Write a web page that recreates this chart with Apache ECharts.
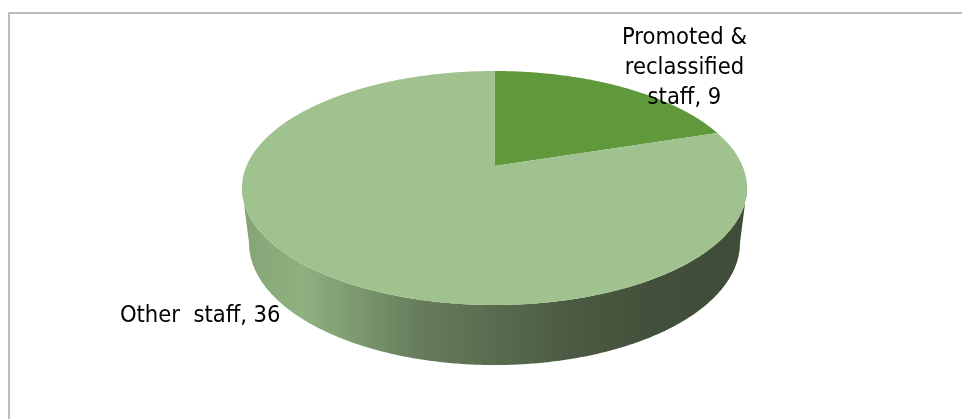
<!DOCTYPE html>
<html>
<head>
<meta charset="utf-8">
<script src="https://cdn.jsdelivr.net/npm/echarts@6/dist/echarts.min.js"></script>
<style>
html,body{margin:0;padding:0;background:#fff;}
#chart{width:962px;height:419px;}
</style>
</head>
<body>
<div id="chart"></div>
<script>
// ---- data ----
const categories = ['Promoted &\nreclassified\nstaff', 'Other  staff'];
const values = [9, 36];
const topColors = ['#5f993c', '#9fc28e'];

// ---- perspective projection of the pie disc (layout) ----
const CX = 494.5, P = 0.188;
const TOP = {A: 248, al: -81.65, be: 166};
const BOT = {A: 241.1, al: -76.4, be: 220};
function proj(f, th, r) {
  const x = r * Math.sin(th), z = r * Math.cos(th);
  const w = 1 + P * z;
  return [CX + f.A * x / w, (f.al * z + f.be) / w];
}
function arc(f, a, b, r) {
  const pts = [];
  const n = Math.max(2, Math.ceil(Math.abs(b - a) / (Math.PI / 360)));
  for (let k = 0; k <= n; k++) pts.push(proj(f, a + (b - a) * k / n, r));
  return pts;
}
const total = values.reduce((s, v) => s + v, 0);
const visA = Math.PI / 2 + Math.asin(P);
const visB = 3 * Math.PI / 2 - Math.asin(P);
const sideGrad = {
  type: 'linear', x: 242, y: 0, x2: 747, y2: 0, global: true,
  colorStops: [
    {offset: 0, color: '#84a475'},
    {offset: 0.12, color: '#8fb17f'},
    {offset: 0.35, color: '#667d5c'},
    {offset: 0.65, color: '#4b5b43'},
    {offset: 0.82, color: '#424f3a'},
    {offset: 1, color: '#3f4c37'}
  ]
};
const FONT = "'DejaVu Sans Condensed', 'DejaVu Sans', sans-serif";

function renderItem(params, api) {
  const i = params.dataIndex;
  const v = api.value(0);
  let before = 0;
  for (let k = 0; k < i; k++) before += values[k];
  const a0 = before / total * 2 * Math.PI;
  const a1 = a0 + v / total * 2 * Math.PI;
  const children = [];
  // side wall (front, visible part)
  const lo = Math.max(a0, visA), hi = Math.min(a1, visB);
  if (hi > lo) {
    const poly = arc(TOP, lo, hi, 1).concat(arc(BOT, hi, lo, 1));
    children.push({type: 'polygon', z2: 0, shape: {points: poly}, style: {fill: sideGrad}});
  }
  // top face
  const face = [proj(TOP, 0, 0)].concat(arc(TOP, a0, a1, 1));
  children.push({type: 'polygon', z2: 10, shape: {points: face}, style: {fill: topColors[i]}});
  // label
  const mid = (a0 + a1) / 2;
  const anc = proj(TOP, mid, 1.2);
  const right = Math.sin(mid) > 0;
  children.push({
    type: 'text', z2: 20,
    x: right ? anc[0] + 42 : anc[0],
    y: right ? anc[1] - 5 : anc[1] + 16,
    style: {
      text: categories[i] + ', ' + v,
      fill: '#000', fontSize: 23.5, fontFamily: FONT, lineHeight: 30,
      align: right ? 'center' : 'right', verticalAlign: 'middle'
    }
  });
  return {type: 'group', children: children};
}

const chart = echarts.init(document.getElementById('chart'), null, {renderer: 'canvas'});
chart.setOption({
  backgroundColor: '#fff',
  animation: false,
  graphic: [{
    type: 'rect', z: -10,
    shape: {x: 9, y: 13, width: 1000, height: 500},
    style: {fill: 'none', stroke: '#a5a5a5', lineWidth: 1.5}
  }],
  series: [{
    type: 'custom',
    coordinateSystem: 'none',
    renderItem: renderItem,
    data: values.map((v, i) => ({name: categories[i], value: [v]}))
  }]
});
</script>
</body>
</html>
